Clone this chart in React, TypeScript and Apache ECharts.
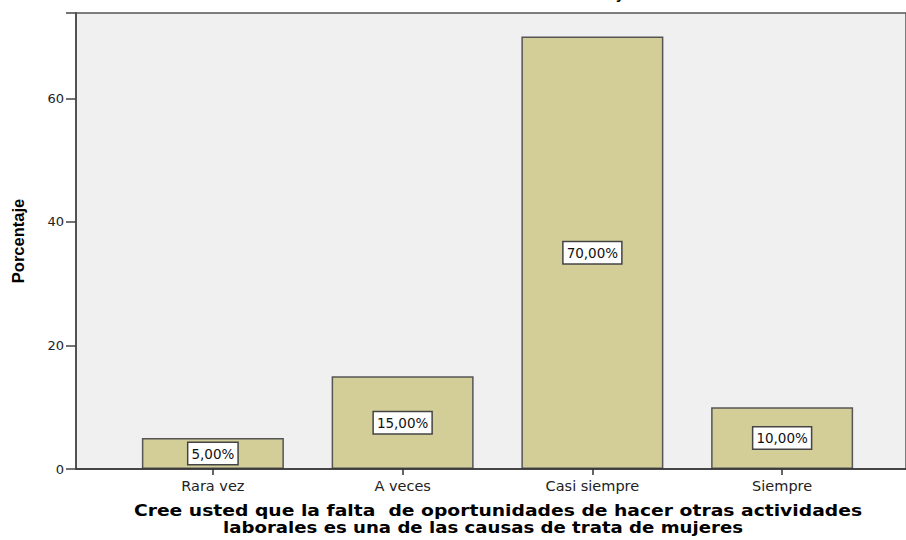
import React, { useEffect, useRef } from "react";
import * as echarts from "echarts";

const categories = ["Rara vez", "A veces", "Casi siempre", "Siempre"];
const percentages = [5, 15, 70, 10];
const yTicks = [0, 20, 40, 60];
const yAxisTitle = "Porcentaje";
const xTitleLine1 = "Cree usted que la falta  de oportunidades de hacer otras actividades";
const xTitleLine2 = "laborales es una de las causas de trata de mujeres";

const Y_MAX = 73.8;
const SANS = "'DejaVu Sans', Verdana, sans-serif";

export default function App() {
  const ref = useRef<HTMLDivElement>(null);
  useEffect(() => {
    if (!ref.current) return;
    const chart = echarts.init(ref.current, null, { renderer: "svg" });
    const option: any = {
      animation: false,
      backgroundColor: "#ffffff",
      grid: [
        {
          left: 76,
          top: 13,
          width: 860,
          bottom: 71,
          show: true,
          backgroundColor: "#f0f0f0",
          borderColor: "#555555",
          borderWidth: 1.5,
          containLabel: false,
        },
        {
          left: 118,
          top: 13,
          width: 759,
          bottom: 71,
          containLabel: false,
        },
      ],
      xAxis: [
        {
          gridIndex: 0,
          type: "value",
          min: 0,
          max: 1,
          show: false,
        },
        {
          gridIndex: 1,
          type: "category",
          data: categories,
          axisLine: { show: false },
          axisTick: {
            show: true,
            alignWithLabel: true,
            length: 6,
            lineStyle: { color: "#333", width: 1.5 },
          },
          axisLabel: {
            color: "#222",
            fontFamily: SANS,
            fontSize: 14.5,
            margin: 9,
          },
          splitLine: { show: false },
        },
      ],
      yAxis: [
        {
          gridIndex: 0,
          type: "value",
          min: 0,
          max: Y_MAX,
          interval: 20,
          name: yAxisTitle,
          nameLocation: "middle",
          nameGap: 50,
          nameRotate: 90,
          nameTextStyle: {
            fontFamily: "'Liberation Sans', Arial, sans-serif",
            fontWeight: "bold",
            fontSize: 16.5,
            color: "#000",
          },
          axisLine: { show: true, lineStyle: { color: "#444", width: 1.5 } },
          axisTick: { show: true, length: 10, lineStyle: { color: "#444", width: 1.5 } },
          axisLabel: {
            color: "#222",
            fontFamily: SANS,
            fontSize: 13,
            margin: 12,
            formatter: (v: number) => (yTicks.includes(v) ? String(v) : ""),
          },
          splitLine: { show: false },
        },
        {
          gridIndex: 1,
          type: "value",
          min: 0,
          max: Y_MAX,
          show: false,
        },
      ],
      series: [
        {
          type: "bar",
          xAxisIndex: 1,
          yAxisIndex: 1,
          data: percentages,
          barWidth: 142,
          itemStyle: {
            color: "#d3ce97",
            borderColor: "#555",
            borderWidth: 1.5,
          },
          label: {
            show: true,
            position: "inside",
            formatter: (p: any) => p.value.toFixed(2).replace(".", ",") + "%",
            color: "#111",
            fontFamily: SANS,
            fontSize: 13.5,
            backgroundColor: "#ffffff",
            borderColor: "#444",
            borderWidth: 1.5,
            padding: [4, 3, 3, 3],
          },
        },
      ],
      graphic: [
        {
          type: "line",
          shape: { x1: 76, y1: 469, x2: 906, y2: 469 },
          style: { stroke: "#333", lineWidth: 1.5 },
          z: 10,
        },
        {
          type: "text",
          x: 616,
          y: -14,
          style: {
            text: "y",
            font: "bold 15px 'Liberation Sans', Arial, sans-serif",
            fill: "#000",
          },
        },
        {
          type: "text",
          x: 498,
          y: 511,
          scaleX: 1.25,
          style: {
            text: xTitleLine1,
            font: "bold 15px 'DejaVu Sans', Verdana, sans-serif",
            fill: "#000",
            align: "center",
            verticalAlign: "middle",
          },
        },
        {
          type: "text",
          x: 483,
          y: 528,
          scaleX: 1.21,
          style: {
            text: xTitleLine2,
            font: "bold 15px 'DejaVu Sans', Verdana, sans-serif",
            fill: "#000",
            align: "center",
            verticalAlign: "middle",
          },
        },
      ],
    };
    chart.setOption(option);
    return () => chart.dispose();
  }, []);
  return (
    <div
      ref={ref}
      style={{ position: "fixed", left: 0, top: 0, width: 906, height: 540 }}
    />
  );
}
